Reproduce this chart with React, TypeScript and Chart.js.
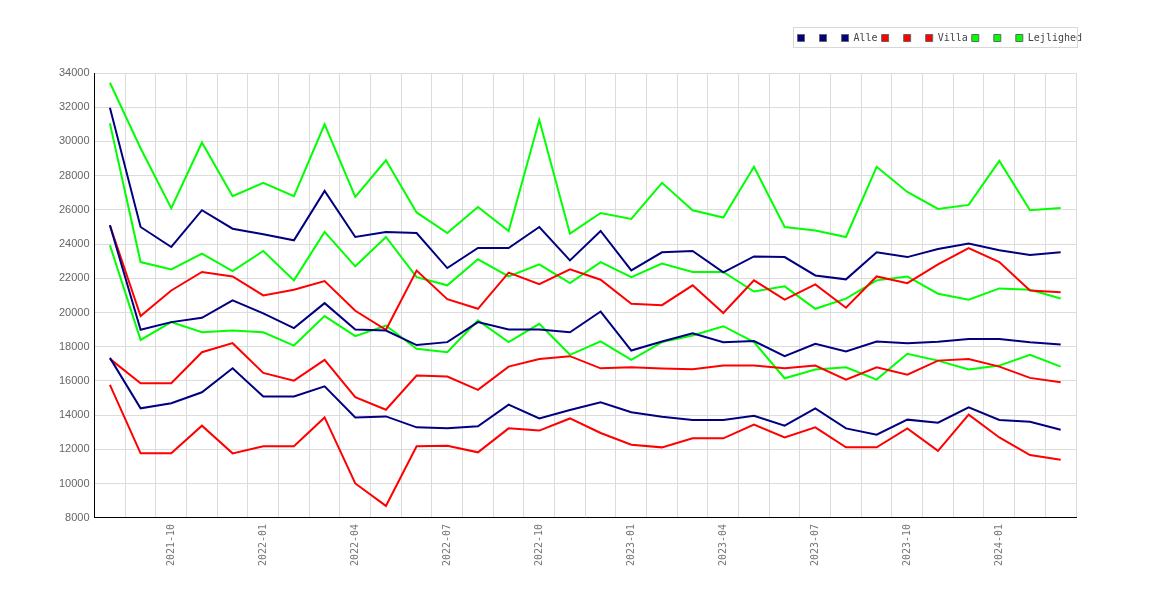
import React, { useEffect, useRef } from 'react';
import { Chart, registerables } from 'chart.js';

Chart.register(...registerables);

const MONTHS = [
  '2021-08', '2021-09', '2021-10', '2021-11', '2021-12',
  '2022-01', '2022-02', '2022-03', '2022-04', '2022-05', '2022-06', '2022-07', '2022-08', '2022-09', '2022-10', '2022-11', '2022-12',
  '2023-01', '2023-02', '2023-03', '2023-04', '2023-05', '2023-06', '2023-07', '2023-08', '2023-09', '2023-10', '2023-11', '2023-12',
  '2024-01', '2024-02', '2024-03',
];

const ALLE_HIGH = [31970, 25000, 23830, 25980, 24900, 24570, 24220, 27110, 24415, 24710, 24650, 22600, 23770, 23770, 25000, 23050, 24770, 22460, 23520, 23600, 22350, 23280, 23240, 22170, 21940, 23520, 23240, 23710, 24030, 23640, 23360, 23520];
const ALLE_MID = [25100, 18990, 19440, 19690, 20710, 19950, 19090, 20550, 19010, 18950, 18100, 18270, 19440, 19010, 19010, 18850, 20060, 17780, 18310, 18790, 18270, 18330, 17450, 18170, 17720, 18310, 18210, 18290, 18460, 18460, 18270, 18130];
const ALLE_LOW = [17350, 14400, 14700, 15340, 16740, 15100, 15100, 15690, 13870, 13930, 13290, 13230, 13350, 14620, 13810, 14300, 14750, 14170, 13910, 13720, 13720, 13970, 13390, 14400, 13230, 12860, 13740, 13560, 14460, 13720, 13620, 13150];

const VILLA_HIGH = [25100, 19800, 21290, 22370, 22110, 21000, 21330, 21840, 20100, 18990, 22450, 20780, 20220, 22330, 21660, 22520, 21920, 20510, 20430, 21590, 19970, 21880, 20750, 21645, 20280, 22110, 21720, 22820, 23770, 22950, 21290, 21190];
const VILLA_MID = [17290, 15870, 15870, 17680, 18210, 16470, 16020, 17230, 15050, 14320, 16320, 16260, 15480, 16840, 17290, 17450, 16740, 16800, 16730, 16690, 16900, 16900, 16740, 16900, 16080, 16800, 16370, 17190, 17290, 16840, 16180, 15920];
const VILLA_LOW = [15770, 11770, 11770, 13390, 11770, 12180, 12180, 13870, 10010, 8700, 12180, 12220, 11830, 13230, 13100, 13810, 12960, 12270, 12120, 12650, 12650, 13450, 12700, 13290, 12120, 12120, 13230, 11920, 14030, 12700, 11670, 11400];

const LEJ_HIGH = [33430, 29600, 26100, 29940, 26800, 27580, 26800, 31000, 26760, 28900, 25850, 24650, 26170, 24770, 31250, 24610, 25820, 25470, 27580, 25980, 25550, 28515, 25000, 24800, 24415, 28515, 27050, 26055, 26290, 28865, 25980, 26110];
const LEJ_MID = [31055, 22950, 22520, 23440, 22420, 23600, 21880, 24710, 22700, 24415, 22070, 21590, 23110, 22110, 22820, 21720, 22950, 22070, 22860, 22370, 22370, 21230, 21530, 20220, 20810, 21880, 22110, 21100, 20750, 21410, 21330, 20820];
const LEJ_LOW = [23930, 18400, 19440, 18850, 18950, 18850, 18070, 19790, 18620, 19240, 17880, 17680, 19540, 18270, 19340, 17530, 18310, 17230, 18270, 18660, 19200, 18270, 16160, 16670, 16800, 16080, 17590, 17190, 16670, 16900, 17530, 16840];

const NAVY = '#000080';
const RED = '#ff0000';
const GREEN = '#00ff00';

// nudge the legend into the spot the original uses, then frame it
const legendTweak = {
  id: 'legendTweak',
  afterLayout(chart: any) {
    const lg = chart.legend;
    if (!lg) return;
    lg.left += 10;
    lg.right += 10;
    lg.top -= 20;
    lg.bottom -= 20;
  },
  afterDraw(chart: any) {
    const lg = chart.legend;
    const boxes = lg?.legendHitBoxes;
    if (!boxes || !boxes.length) return;
    const ctx = chart.ctx;
    ctx.save();
    ctx.strokeStyle = '#d8d8d8';
    ctx.lineWidth = 1;
    const left = Math.round(boxes[0].left) - 4.5;
    const right = Math.round(chart.chartArea.right) + 1.5;
    const mid = boxes[0].top + boxes[0].height / 2;
    const top = Math.round(mid) - 10.5;
    ctx.strokeRect(left, top, right - left, 20);
    ctx.restore();
  },
};

export default function App() {
  const canvasRef = useRef<HTMLCanvasElement>(null);

  useEffect(() => {
    if (!canvasRef.current) return;
    const line = (label: string, data: number[], color: string) => ({
      label,
      data,
      borderColor: color,
      backgroundColor: color,
      borderWidth: 2,
      pointRadius: 0,
      tension: 0,
      fill: false,
    });

    const chart = new Chart(canvasRef.current, {
      type: 'line',
      data: {
        labels: MONTHS,
        datasets: [
          line(' ', ALLE_HIGH, NAVY),
          line(' ', ALLE_MID, NAVY),
          line('Alle', ALLE_LOW, NAVY),
          line(' ', VILLA_HIGH, RED),
          line(' ', VILLA_MID, RED),
          line('Villa', VILLA_LOW, RED),
          line(' ', LEJ_HIGH, GREEN),
          line(' ', LEJ_MID, GREEN),
          line('Lejlighed', LEJ_LOW, GREEN),
        ],
      },
      plugins: [legendTweak],
      options: {
        animation: false,
        responsive: false,
        maintainAspectRatio: false,
        layout: { padding: { left: 54, right: 94, top: 49, bottom: 28 } },
        plugins: {
          tooltip: { enabled: false },
          legend: {
            position: 'top',
            align: 'end',
            labels: {
              boxWidth: 7,
              boxHeight: 7,
              padding: 4,
              color: '#444',
              font: { family: '"DejaVu Sans Mono", monospace', size: 10 },
              generateLabels: (c: any) =>
                c.data.datasets.map((ds: any, i: number) => ({
                  text: ds.label,
                  fillStyle: ds.borderColor,
                  strokeStyle: '#666',
                  lineWidth: 1,
                  hidden: false,
                  datasetIndex: i,
                  fontColor: '#444',
                })),
            },
          },
        },
        scales: {
          x: {
            offset: true,
            grid: { offset: true, color: '#dcdcdc', drawTicks: false },
            border: { color: '#000', width: 1 },
            ticks: {
              autoSkip: false,
              maxRotation: 90,
              minRotation: 90,
              padding: 6,
              color: '#777',
              font: { family: '"DejaVu Sans Mono", monospace', size: 10 },
              callback: (_v: any, i: number) => {
                const m = MONTHS[i].slice(5);
                return ['01', '04', '07', '10'].includes(m) ? MONTHS[i] : '';
              },
            },
          },
          y: {
            min: 8000,
            max: 34000,
            grid: { color: '#dcdcdc', drawTicks: false },
            border: { color: '#000', width: 1 },
            ticks: {
              stepSize: 2000,
              padding: 5,
              color: '#666',
              font: { family: '"Liberation Sans", Arial, sans-serif', size: 11 },
              callback: (v: any) => String(v),
            },
          },
        },
      },
    });

    return () => chart.destroy();
  }, []);

  return (
    <div style={{ position: 'fixed', left: 0, top: 0, width: 1170, height: 600, background: '#fff' }}>
      <canvas ref={canvasRef} width={1170} height={600} style={{ width: 1170, height: 600 }} />
    </div>
  );
}
